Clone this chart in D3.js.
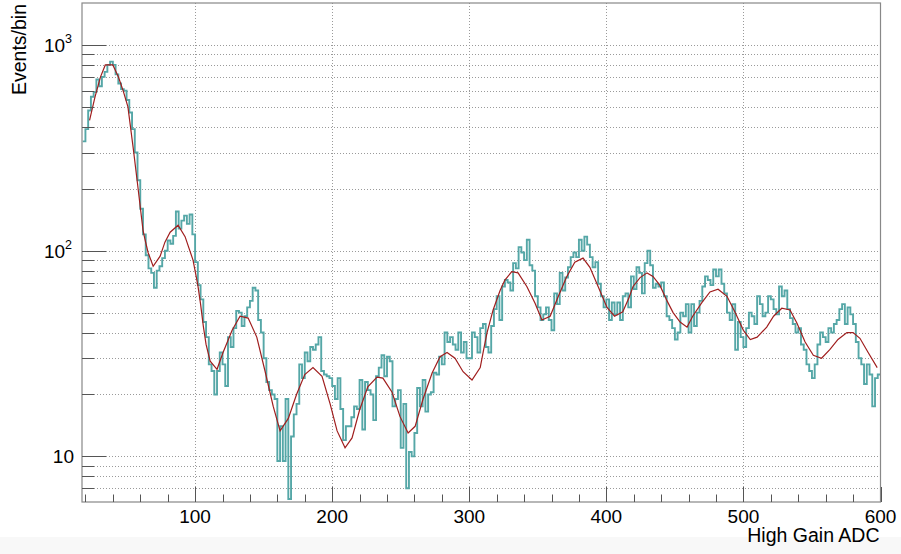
<!DOCTYPE html>
<html><head><meta charset="utf-8">
<script src="https://cdn.jsdelivr.net/npm/d3@7"></script>
<style>
body{margin:0;background:#fff;}
svg{display:block;font-family:"Liberation Sans",Arial,Helvetica,sans-serif;}
</style>
</head><body>
<svg id="c" width="901" height="554"></svg>
<script>
// ---------------- data ----------------
const binStart = 18;
const binWidth = 2;
const counts = [
 340,390,480,560,590,680,630,700,740,800,
 830,800,720,650,610,600,540,470,390,300,
 220,160,120,95,82,78,66,80,84,92,
 100,112,108,118,155,128,140,148,135,150,
 120,88,68,58,45,38,28,26,20,26,
 32,28,22,38,34,42,51,50,43,48,
 53,57,66,64,46,40,30,23,21,20,
 19,9.5,14,9.5,19,6.2,12.5,16,18,28,
 24,32,29,34,33,35,38,26,25,24.5,
 24,22,19,24,17,12,14,14,15.5,17.5,
 17,23.5,13.5,23,21,20,15,24.5,27,31,
 24.5,30.5,29,17.5,19,21,11,18,7,10.5,
 10,13,21.5,17.5,23.5,16.5,20,20.5,25.5,25,
 30.5,28,40,36,38,35,33,40,32,36,
 30,30,40,38,32,42,44,34,32,43,
 52,60,46,67,72,70,64,87,82,104,
 98,90,113,85,80,60,53,46,49,53,
 46,41,62,55,78,64,74,83,93,98,
 93,113,100,117,107,93,83,88,69,60,
 53,58,46,56,49,56,46,60,62,53,
 75,65,83,78,62,87,100,85,66,69,
 67,70,60,48,46,42,37,40,50,48,
 55,40,55,43,50,57,67,75,72,68,
 81,75,81,69,62,50,46,55,33,45,
 38,34,42,50,48,44,60,55,48,50,
 60,58,52,49,67,60,64,52,47,44,
 40,42,35,33,28,26,24,28,35,40,
 38,36,42,40,44,46,52,55,44,53,
 49,44,36,30,28,22.5,28,25,17.5,24,
 25
];
const fitX = [23,27,31,34.5,40,44,47.5,51,55,57.7,60,62,63.5,65.7,69.4,74.5,78,81.8,87.6,92.7,98.5,102,104,106,108,111,116,120.4,127,132.8,138.7,145,151,157,162,168,174,180,186,192.6,198.5,203.6,209.4,214.5,220,226,232.7,237,243.7,249.5,255.4,260.5,266.3,272.9,278.7,283.8,289.6,295.5,302,308,310.5,313,317.4,322.5,326,331,335.6,342,348,353,359,365,371,377,383,388,394,400.5,406,412,416.5,419.5,424.6,429.7,434,439,444.3,448.7,453.8,458.9,463,469.8,475.6,481.5,488,494,500,505,510,517,522,528,534,539,545,551,557,563,569,575.5,580,585,591,597.6];
const fitY = [430,560,700,800,800,700,600,500,310,220,163,126,113,98,84,94,110,123,133,117,90,68,55,43,35,29,26.5,32,41,48,47,38,26,17.5,13.3,15.3,20,25,27,24.5,18,13.3,11,12.3,16.8,21.8,24.3,24,20.5,15.6,13,14,19,25.4,30.5,32,30,25.8,23.5,27,33,40,51.5,64,72,79,78,67,55.5,46,48,60,74.5,88,92,83,67,53,48,50.5,59,67,74,78,75,68,57,50,45,42.5,48,56,63,65,60,50,41,37,38,42.5,48,52.5,51.5,44.5,36,31,30,33,37,40,40,37.5,32,27];
const xDomain = [17.5, 600];
const yDomain = [6, 1600];
const xMajorTicks = [100,200,300,400,500,600];
const xMinorStep = 20;
const yDecades = [10,100,1000];
const xTitle = "High Gain ADC";
const yTitle = "Events/bin";

// ---------------- layout ----------------
const W = 901, H = 554;
const L = 82, R = 880.5, T = 3, B = 502;
const svg = d3.select("#c");

svg.append("rect").attr("x",0).attr("y",537).attr("width",W).attr("height",H-537).attr("fill","#f8f8f8");

const x = d3.scaleLinear().domain(xDomain).range([L,R]);
const y = d3.scaleLog().domain(yDomain).range([B,T]);

const yAll = [];
for (const dec of [1,10,100,1000]) {
  for (let d=1; d<=9; d++) {
    const v = d*dec;
    if (v > yDomain[0] && v < yDomain[1]) yAll.push(v);
  }
}
const xMinor = d3.range(20, 600.1, xMinorStep).filter(v => v > xDomain[0] && v <= xDomain[1]);

// grid
const grid = svg.append("g").attr("stroke","#9a9a9a").attr("stroke-width",1).attr("stroke-dasharray","1,2").attr("fill","none");
yAll.forEach(v => {
  grid.append("line").attr("x1",L).attr("x2",R).attr("y1",Math.round(y(v))+0.5).attr("y2",Math.round(y(v))+0.5);
});
xMajorTicks.filter(v=>v<xDomain[1]).forEach(v => {
  grid.append("line").attr("x1",Math.round(x(v))+0.5).attr("x2",Math.round(x(v))+0.5).attr("y1",T).attr("y2",B);
});

// histogram step path
const clampY = v => y(Math.max(yDomain[0]*0.999, Math.min(yDomain[1], v)));
let d = "";
counts.forEach((c,i) => {
  const x0 = x(binStart + i*binWidth), x1 = x(binStart + (i+1)*binWidth);
  const yy = clampY(c);
  d += (i===0 ? `M${x0},${yy}` : `L${x0},${yy}`) + `L${x1},${yy}`;
});
const clipId = "plotclip";
svg.append("clipPath").attr("id",clipId).append("rect").attr("x",L).attr("y",T).attr("width",R-L).attr("height",B-T);
svg.append("path").attr("d",d).attr("fill","none").attr("stroke","#55a7a7").attr("stroke-width",1.9)
  .attr("clip-path",`url(#${clipId})`);

// fit curve
const fitPts = fitX.map((v,i)=>[v,fitY[i]]);
svg.append("path").datum(fitPts)
  .attr("d", d3.line().x(p=>x(p[0])).y(p=>y(p[1])))
  .attr("fill","none").attr("stroke","#a01e1e").attr("stroke-width",1.2)
  .attr("clip-path",`url(#${clipId})`);

// frame
svg.append("rect").attr("x",L).attr("y",T).attr("width",R-L).attr("height",B-T)
  .attr("fill","none").attr("stroke","#888").attr("stroke-width",1.2);

// axis ticks
const ticks = svg.append("g").attr("stroke","#555").attr("stroke-width",1);
yAll.forEach(v => {
  const major = yDecades.includes(v);
  const yy = Math.round(y(v))+0.5;
  ticks.append("line").attr("x1",L).attr("x2",L+(major?24:12)).attr("y1",yy).attr("y2",yy);
});
xMinor.forEach(v => {
  const major = xMajorTicks.includes(v);
  const xx = Math.round(x(v))+0.5;
  ticks.append("line").attr("x1",xx).attr("x2",xx).attr("y1",B).attr("y2",B-(major?15:7.5));
});

// x tick labels
xMajorTicks.forEach(v => {
  svg.append("text").attr("x",x(v)).attr("y",523).attr("text-anchor","middle")
    .attr("font-size",19).attr("fill","#000").text(v);
});
// y tick labels
yDecades.forEach(v => {
  const e = Math.round(Math.log10(v));
  const t = svg.append("text").attr("y",y(v)+7).attr("font-size",19).attr("fill","#000").attr("text-anchor","end");
  if (e === 1) {
    t.attr("x",74).text("10");
  } else {
    t.attr("x",72);
    t.append("tspan").text("10");
    t.append("tspan").attr("font-size",12.5).attr("dy",-8.5).text(e);
  }
});

// axis titles
svg.append("text").attr("x",879.5).attr("y",542).attr("text-anchor","end").attr("font-size",19.5).attr("fill","#000").text(xTitle);
svg.append("text").attr("transform","translate(26,4) rotate(-90)").attr("text-anchor","end").attr("font-size",19.5).attr("fill","#000").text(yTitle);
</script>
</body></html>
